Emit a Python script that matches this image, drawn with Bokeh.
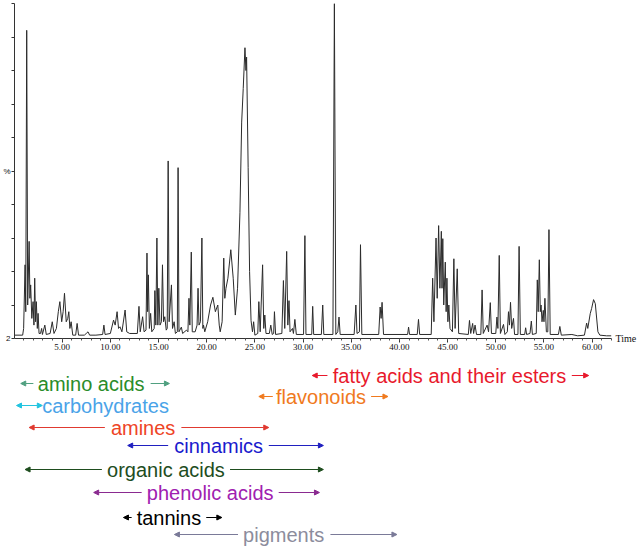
from bokeh.plotting import figure
from bokeh.layouts import column
from bokeh.models import ColumnDataSource, Range1d, FixedTicker, Arrow, NormalHead, LinearAxis
from bokeh.core.properties import value
from bokeh.embed import file_html
from bokeh.resources import INLINE

# ---- chromatogram trace (retention time in min, relative intensity in %) ----
time_min = [
    0.0, 0.9, 1.0, 1.15, 1.22, 1.32, 1.42, 1.57, 1.65, 1.73, 1.85, 1.98, 2.07, 2.15, 2.24, 2.32,
    2.42, 2.5, 2.6, 2.75, 2.87, 2.95, 3.2, 3.35, 3.75, 3.97, 4.15, 4.4, 4.6, 4.76, 4.95, 5.1,
    5.24, 5.42, 5.58, 5.69, 5.8, 5.93, 6.1, 6.4, 6.55, 6.7, 7.3, 7.5, 7.68, 7.85, 8.5, 9.2,
    9.33, 9.45, 10.0, 10.33, 10.5, 10.7, 10.85, 11.0, 11.2, 11.53, 11.7, 12.0, 12.8, 12.97,
    13.1, 13.35, 13.5, 13.7, 13.8, 13.87, 13.94, 14.05, 14.18, 14.3, 14.55, 14.62, 14.72, 14.83,
    14.93, 15.03, 15.15, 15.3, 15.41, 15.52, 15.65, 15.8, 15.9, 16.0, 16.1, 16.34, 16.45, 16.62,
    16.75, 16.95, 17.03, 17.12, 17.37, 17.5, 17.9, 18.05, 18.16, 18.25, 18.4, 18.5, 18.8, 19.0,
    19.1, 19.2, 19.35, 19.5, 19.6, 19.67, 19.8, 20.1, 20.4, 20.64, 20.9, 21.15, 21.3, 21.4,
    21.6, 21.77, 21.88, 22.0, 22.2, 22.5, 22.75, 22.97, 23.2, 23.45, 23.63, 23.79, 23.97, 24.07,
    24.14, 24.3, 24.45, 24.6, 24.75, 24.87, 25.0, 25.3, 25.41, 25.55, 25.8, 25.92, 26.03, 26.15,
    26.5, 26.65, 26.8, 26.95, 27.03, 27.15, 27.8, 27.96, 28.1, 28.3, 28.42, 28.54, 28.65, 28.9,
    29.0, 29.15, 29.3, 30.05, 30.19, 30.3, 30.9, 31.0, 31.1, 31.9, 32.04, 32.15, 33.1, 33.25,
    33.4, 33.6, 33.73, 33.85, 35.3, 35.48, 35.6, 35.85, 35.96, 36.1, 37.85, 38.0, 38.1, 38.2,
    38.35, 40.85, 40.95, 41.05, 41.85, 41.98, 42.1, 43.3, 43.45, 43.58, 43.8, 43.92, 44.07, 44.2,
    44.35, 44.42, 44.5, 44.6, 44.76, 44.85, 44.93, 45.03, 45.13, 45.25, 45.5, 45.65, 45.78, 46.0,
    46.15, 47.15, 47.27, 47.4, 47.6, 47.7, 47.85, 48.0, 48.45, 48.58, 48.7, 49.1, 49.25, 49.43,
    49.55, 50.0, 50.12, 50.22, 50.36, 50.48, 50.8, 50.95, 51.2, 51.32, 51.42, 51.53, 51.65, 51.84,
    51.95, 52.3, 52.42, 52.55, 53.0, 53.1, 53.2, 53.55, 53.69, 53.8, 54.2, 54.31, 54.4, 54.52,
    54.62, 54.7, 54.8, 54.93, 55.0, 55.1, 55.25, 55.4, 55.52, 55.65, 56.5, 56.65, 56.8, 57.9,
    58.5, 59.2, 59.43, 59.55, 59.8, 59.95, 60.15, 60.33, 60.6, 60.8, 61.5, 62.0,
]
intensity = [
    1.0, 1.0, 3, 22, 8, 92, 10, 29, 12, 16, 6, 11, 4, 18, 5, 11,
    3, 7.5, 1.5, 1.5, 3, 1.2, 4, 1.2, 1.5, 5, 1.5, 3, 8, 11, 5, 8,
    13.5, 5, 6, 8, 3, 5, 1, 1, 4.5, 1, 1, 1.5, 2, 1, 1, 1.2,
    4, 1.2, 1.5, 5.5, 4, 8, 3, 3.5, 2, 8.5, 2, 1.5, 1.5, 9.6,
    2, 6.5, 2, 2.5, 25.5, 8, 19, 3, 7.5, 2, 3, 14.3, 4, 30,
    4, 15, 4, 5, 22, 5, 6.5, 2.5, 3, 53, 5, 16, 3, 5,
    1.5, 2, 51, 2, 3.4, 1.5, 2.5, 2, 12, 4, 25.8, 2, 2, 4,
    15, 4, 5, 30, 3, 4, 2, 5, 10, 12.3, 8, 10, 4, 2,
    5, 24, 12, 15, 18, 26.5, 18, 7, 15, 37.7, 64.6, 74.6, 86.8, 80,
    84, 51, 20, 5.4, 2, 5, 1, 1.5, 11, 2, 22, 3, 7, 1.5,
    1.5, 4, 1.2, 1.5, 8, 1.2, 1.5, 17.3, 3, 26, 4, 11.3, 2, 3,
    1.5, 5.7, 1.2, 1.2, 30.7, 1.2, 1.2, 9.6, 1.2, 1.2, 10, 1.2, 1.2, 100,
    1.2, 2, 6.4, 1.2, 1.2, 10, 1.5, 2, 28, 1.2, 1.2, 9.4, 6, 10.8,
    1.2, 1.2, 3.4, 1.2, 1.2, 5.7, 1.2, 1.2, 18, 5, 30, 12, 33.7, 15,
    32, 15, 29.8, 10, 22.8, 8, 18, 5, 10, 3, 2, 23.8, 3, 20.8,
    1.5, 1.2, 5.4, 1.5, 4.5, 1.5, 4, 1.2, 1.2, 14.5, 1.5, 4, 2, 10.7,
    1.5, 1.5, 6.4, 3, 24.8, 1.5, 4.2, 1.2, 2, 8, 4, 10.8, 3, 6,
    1.2, 1.2, 27.5, 1.2, 1.2, 3.2, 1.2, 1.5, 5.2, 1.2, 1.5, 17.5, 8, 23.5,
    8, 10, 5, 8.4, 5, 12, 2, 2, 32.5, 1.2, 1.2, 3.6, 1, 1.2,
    0.8, 1, 4.6, 3, 7.4, 9, 11.6, 10.4, 2, 1, 0.8, 0.8,
]

x_ticks = [5, 10, 15, 20, 25, 30, 35, 40, 45, 50, 55, 60]
x_tick_labels = ["5.00", "10.00", "15.00", "20.00", "25.00", "30.00",
                 "35.00", "40.00", "45.00", "50.00", "55.00", "60.00"]
x_minor_ticks = list(range(1, 63))
y_ticks = [0, 10, 20, 30, 40, 50, 60, 70, 80, 90, 100]
y_tick_labels = {0: "2", 50: "%"}
x_axis_title = "Time"

# ---- compound-class elution ranges (minutes) ----
classes = ["amino acids", "carbohydrates", "amines", "fatty acids and their esters",
           "flavonoids", "cinnamics", "organic acids", "phenolic acids", "tannins", "pigments"]
range_start = [0.70, 0.26, 1.57, 30.95, 25.41, 11.80, 1.15, 8.27, 11.36, 16.65]
range_end = [16.13, 2.94, 26.44, 59.64, 38.81, 32.11, 32.11, 31.70, 21.57, 39.74]
label_center = [8.01, 9.50, 13.40, 45.20, 31.86, 21.24, 15.77, 20.36, 16.08, 27.99]
inner_left = [2.01, None, 9.43, 32.53, 26.86, 16.00, 9.12, 13.25, 12.21, 23.25]
inner_right = [14.18, None, 17.37, 57.89, 37.06, 26.44, 22.42, 27.47, 19.95, 32.84]
row_y = [383, 405, 427, 375, 396, 445, 469, 492, 517, 534]
text_colors = ["#2a8c2a", "#4aa3e8", "#ee4426", "#e8192c", "#f07a1e",
               "#1a1acd", "#1e4d1e", "#a020b0", "#000000", "#8c8c9c"]
arrow_colors = ["#50a080", "#22c4e0", "#e03a30", "#e8192c", "#f07a1e",
                "#2020c0", "#1e4d1e", "#8a2a90", "#000000", "#7a7a98"]

FONT = "Liberation Sans"
TICK_FONT = "Liberation Sans Narrow"

# ---------------- chromatogram ----------------
xr = Range1d(0.052, 62.01)
top = figure(width=639, height=354, x_range=xr, y_range=Range1d(0, 100),
             output_backend="svg", toolbar_location=None,
             min_border_left=12, min_border_right=26, min_border_top=3, min_border_bottom=16)
top.line(time_min, intensity, line_color="#2b2b2b", line_width=1)
top.grid.visible = False
top.outline_line_color = None

xa = top.xaxis[0]
xa.ticker = FixedTicker(ticks=x_ticks, minor_ticks=x_minor_ticks)
xa.major_label_overrides = dict(zip(x_ticks, x_tick_labels))
xa.major_label_text_font = TICK_FONT
xa.major_label_text_font_size = "9px"
xa.major_label_text_color = "#111111"
xa.major_label_standoff = 1
xa.major_tick_out = 4
xa.major_tick_in = 0
xa.minor_tick_out = 2
xa.minor_tick_in = 0
xa.axis_line_color = "#333333"
xa.major_tick_line_color = "#333333"
xa.minor_tick_line_color = "#555555"

ya = top.yaxis[0]
ya.ticker = FixedTicker(ticks=y_ticks, minor_ticks=[])
ya.major_label_overrides = {t: y_tick_labels.get(t, "") for t in y_ticks}
ya.major_label_text_font = FONT
ya.major_label_text_font_size = "8px"
ya.major_label_text_color = "#111111"
ya.major_label_standoff = 1
ya.major_tick_out = 3
ya.major_tick_in = 0
ya.axis_line_color = "#333333"
ya.major_tick_line_color = "#333333"

# right-hand axis used only to carry the "Time" caption at the baseline
ra = LinearAxis(ticker=FixedTicker(ticks=[0], minor_ticks=[]),
                major_label_overrides={0: x_axis_title},
                major_label_text_font=TICK_FONT, major_label_text_font_size="10px",
                major_label_text_color="#111111", major_label_standoff=4,
                major_tick_out=0, major_tick_in=0, minor_tick_out=0, minor_tick_in=0,
                axis_line_color=None, major_tick_line_color=None, minor_tick_line_color=None)
top.add_layout(ra, "right")

# ---------------- compound classes ----------------
bot = figure(width=639, height=194, x_range=xr, y_range=Range1d(548, 354),
             output_backend="svg", toolbar_location=None, min_border=0,
             min_border_left=12, min_border_right=26,
             x_axis_location=None, y_axis_location=None)
bot.grid.visible = False
bot.outline_line_color = None

src = ColumnDataSource(dict(x=label_center, y=row_y, text=classes, color=text_colors))
bot.text(x="x", y="y", text="text", text_color="color", source=src,
         text_font=value(FONT), text_font_size="20px",
         text_align="center", text_baseline="middle")

for i in range(len(classes)):
    c = arrow_colors[i]
    y = row_y[i]
    if inner_left[i] is None:
        bot.add_layout(Arrow(x_start=range_start[i], y_start=y, x_end=range_end[i], y_end=y,
                             line_color=c, line_width=1,
                             start=NormalHead(size=5, fill_color=c, line_color=c),
                             end=NormalHead(size=5, fill_color=c, line_color=c)))
        continue
    bot.add_layout(Arrow(x_start=inner_left[i], y_start=y, x_end=range_start[i], y_end=y,
                         line_color=c, line_width=1,
                         end=NormalHead(size=5, fill_color=c, line_color=c)))
    bot.add_layout(Arrow(x_start=inner_right[i], y_start=y, x_end=range_end[i], y_end=y,
                         line_color=c, line_width=1,
                         end=NormalHead(size=5, fill_color=c, line_color=c)))

layout = column(top, bot)
open("out.html", "w").write(file_html(layout, INLINE))
